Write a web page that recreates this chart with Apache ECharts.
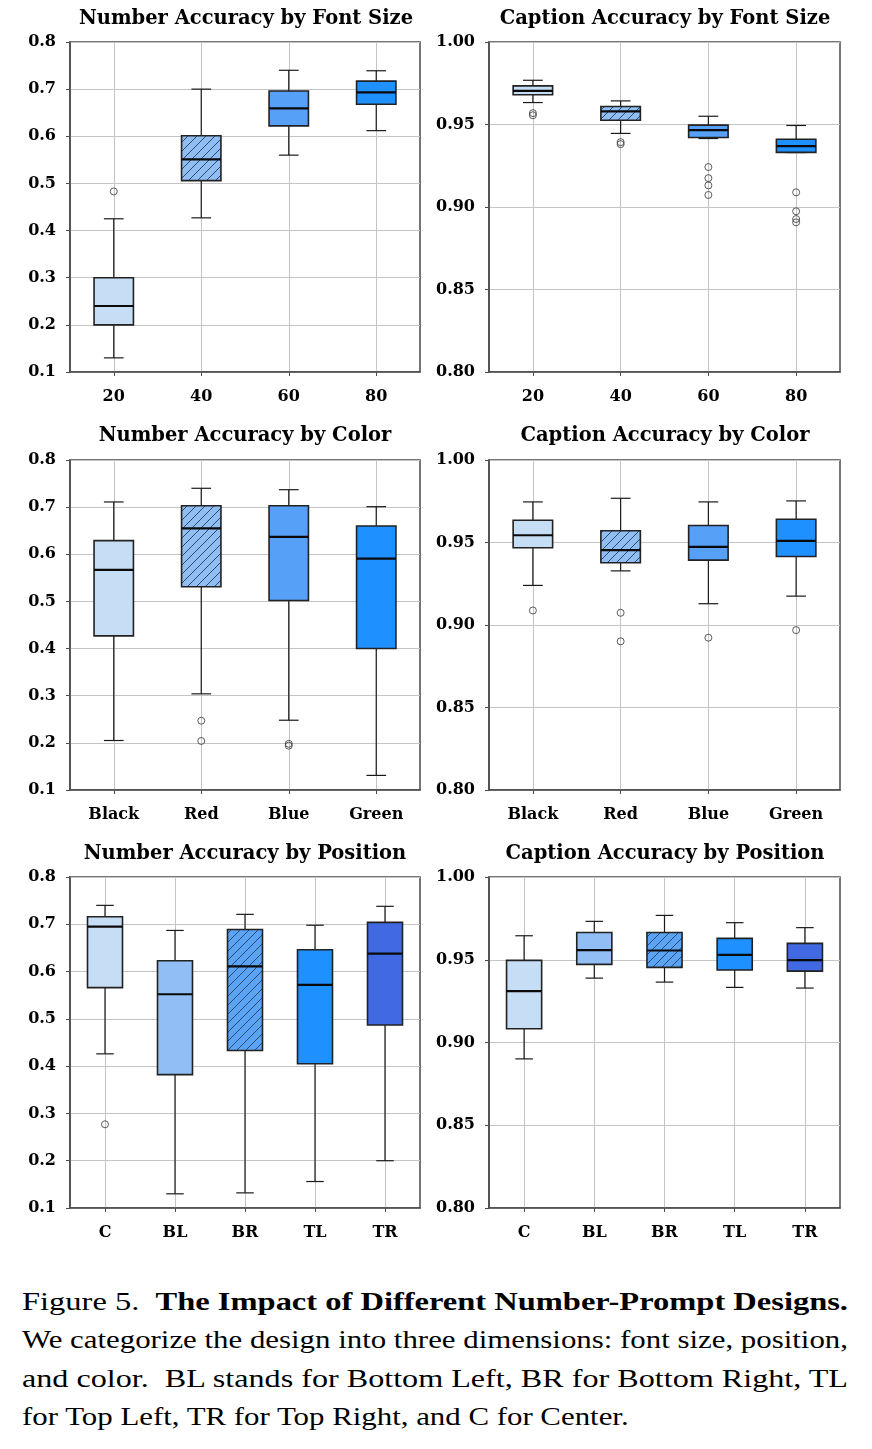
<!DOCTYPE html>
<html>
<head>
<meta charset="utf-8">
<script src="https://cdn.jsdelivr.net/npm/echarts@6/dist/echarts.min.js"></script>
<style>
  html, body { margin: 0; padding: 0; background: #fff; }
  #chart { position: absolute; left: 0; top: 0; width: 872px; height: 1270px; }
  .cap { position: absolute; left: 22px; font-family: 'Liberation Serif', 'Times New Roman', serif; font-size: 25px; line-height: 25px; white-space: nowrap; color: #000; transform-origin: 0 0; }
</style>
</head>
<body>
<div id="chart"></div>
<div class="cap" id="l1" style="top:1289px">Figure 5.&nbsp; <b>The Impact of Different Number-Prompt Designs.</b></div>
<div class="cap" id="l2" style="top:1327px">We categorize the design into three dimensions: font size, position,</div>
<div class="cap" id="l3" style="top:1366px">and color.&nbsp; BL stands for Bottom Left, BR for Bottom Right, TL</div>
<div class="cap" id="l4" style="top:1404px">for Top Left, TR for Top Right, and C for Center.</div>
<script>
// ---------------- DATA ----------------
const fontCats = ['20', '40', '60', '80'];
const colorCats = ['Black', 'Red', 'Blue', 'Green'];
const posCats = ['C', 'BL', 'BR', 'TL', 'TR'];

const numberTicks = [0.1, 0.2, 0.3, 0.4, 0.5, 0.6, 0.7, 0.8];
const captionTicks = [0.80, 0.85, 0.90, 0.95, 1.00];

// [low whisker, Q1, median, Q3, high whisker]
const numFontBox = [
  [0.130, 0.200, 0.240, 0.300, 0.425],
  [0.427, 0.506, 0.551, 0.601, 0.700],
  [0.560, 0.622, 0.659, 0.696, 0.740],
  [0.612, 0.668, 0.693, 0.717, 0.739]
];
const numFontOut = [[0, 0.483]];

const capFontBox = [
  [0.9633, 0.9680, 0.9704, 0.9734, 0.9768],
  [0.9446, 0.9526, 0.9579, 0.9609, 0.9643],
  [0.9415, 0.9421, 0.9466, 0.9496, 0.9550],
  [0.9330, 0.9331, 0.9369, 0.9411, 0.9494]
];
const capFontOut = [[0, 0.9569], [0, 0.9556], [1, 0.9393], [1, 0.9381],
  [2, 0.9242], [2, 0.9175], [2, 0.9131], [2, 0.9073],
  [3, 0.9089], [3, 0.8974], [3, 0.8927], [3, 0.8907]];

const numColorBox = [
  [0.205, 0.427, 0.567, 0.629, 0.711],
  [0.304, 0.531, 0.655, 0.703, 0.740],
  [0.248, 0.502, 0.637, 0.703, 0.737],
  [0.131, 0.400, 0.591, 0.660, 0.701]
];
const numColorOut = [[1, 0.247], [1, 0.204], [2, 0.198], [2, 0.194]];

const capColorBox = [
  [0.9240, 0.9468, 0.9544, 0.9635, 0.9746],
  [0.9328, 0.9377, 0.9454, 0.9571, 0.9768],
  [0.9129, 0.9393, 0.9474, 0.9603, 0.9746],
  [0.9175, 0.9415, 0.9510, 0.9641, 0.9752]
];
const capColorOut = [[0, 0.9088], [1, 0.9074], [1, 0.8901], [2, 0.8923], [3, 0.8969]];

const numPosBox = [
  [0.426, 0.566, 0.695, 0.716, 0.740],
  [0.130, 0.382, 0.552, 0.623, 0.687],
  [0.132, 0.433, 0.611, 0.689, 0.721],
  [0.156, 0.405, 0.572, 0.646, 0.698],
  [0.200, 0.487, 0.638, 0.704, 0.738]
];
const numPosOut = [[0, 0.277]];

const capPosBox = [
  [0.8901, 0.9083, 0.9311, 0.9496, 0.9645],
  [0.9389, 0.9472, 0.9558, 0.9665, 0.9732],
  [0.9365, 0.9454, 0.9556, 0.9665, 0.9768],
  [0.9333, 0.9438, 0.9530, 0.9629, 0.9724],
  [0.9329, 0.9431, 0.9498, 0.9599, 0.9694]
];
const capPosOut = [];

const titles = [
  'Number Accuracy by Font Size', 'Caption Accuracy by Font Size',
  'Number Accuracy by Color', 'Caption Accuracy by Color',
  'Number Accuracy by Position', 'Caption Accuracy by Position'
];

// ---------------- STYLE ----------------
function hatch(base) {
  const s = 9;
  const c = document.createElement('canvas');
  c.width = s; c.height = s;
  const ctx = c.getContext('2d');
  ctx.fillStyle = base; ctx.fillRect(0, 0, s, s);
  ctx.strokeStyle = '#2c4a70'; ctx.lineWidth = 1;
  ctx.beginPath();
  ctx.moveTo(0, s); ctx.lineTo(s, 0);
  ctx.moveTo(-1, 1); ctx.lineTo(1, -1);
  ctx.moveTo(s - 1, s + 1); ctx.lineTo(s + 1, s - 1);
  ctx.stroke();
  return { image: c, repeat: 'repeat' };
}
const fourColors = ['#c6ddf6', hatch('#90bdf2'), '#56a0f8', '#1e90ff'];
const fiveColors = ['#c6ddf6', '#90bef5', hatch('#5aa3f5'), '#1e90ff', '#4169e1'];

const FONT = 'DejaVu Serif';
const layout = [
  { left: 70, top: 42, width: 350, height: 330, tx: 246, ty: 9 },
  { left: 489, top: 42, width: 351, height: 330, tx: 665, ty: 9 },
  { left: 70, top: 460, width: 350, height: 330, tx: 245, ty: 426 },
  { left: 489, top: 460, width: 351, height: 330, tx: 665, ty: 426 },
  { left: 70, top: 877, width: 350, height: 331, tx: 245, ty: 844 },
  { left: 489, top: 877, width: 351, height: 331, tx: 665, ty: 844 }
];
const panels = [
  { cats: fontCats, box: numFontBox, out: numFontOut, ticks: numberTicks, colors: fourColors, dec: 1 },
  { cats: fontCats, box: capFontBox, out: capFontOut, ticks: captionTicks, colors: fourColors, dec: 2 },
  { cats: colorCats, box: numColorBox, out: numColorOut, ticks: numberTicks, colors: fourColors, dec: 1 },
  { cats: colorCats, box: capColorBox, out: capColorOut, ticks: captionTicks, colors: fourColors, dec: 2 },
  { cats: posCats, box: numPosBox, out: numPosOut, ticks: numberTicks, colors: fiveColors, dec: 1 },
  { cats: posCats, box: capPosBox, out: capPosOut, ticks: captionTicks, colors: fiveColors, dec: 2 }
];

const option = { animation: false, title: [], grid: [], xAxis: [], yAxis: [], series: [] };

panels.forEach((p, i) => {
  const L = layout[i];
  option.title.push({
    text: titles[i], left: L.tx, top: L.ty, textAlign: 'center', padding: 0,
    textStyle: { fontFamily: FONT, fontWeight: 'bold', fontSize: 19.5, color: '#000' }
  });
  option.grid.push({
    left: L.left, top: L.top, width: L.width, height: L.height,
    show: true, borderColor: '#4a4a4a', borderWidth: 1.5, backgroundColor: 'transparent'
  });
  option.xAxis.push({
    type: 'category', gridIndex: i, data: p.cats, boundaryGap: true,
    axisLine: { show: true, lineStyle: { color: '#4a4a4a', width: 1.5 } },
    axisTick: { show: true, alignWithLabel: true, length: 4, lineStyle: { color: '#4a4a4a' } },
    splitLine: { show: true, alignWithLabel: true, lineStyle: { color: '#c4c4c4', width: 1 } },
    axisLabel: { margin: 17, fontFamily: FONT, fontWeight: 'bold', fontSize: 16, color: '#000' }
  });
  const step = p.ticks[1] - p.ticks[0];
  option.yAxis.push({
    type: 'value', gridIndex: i,
    min: p.ticks[0], max: p.ticks[p.ticks.length - 1], interval: step,
    axisLine: { show: true, lineStyle: { color: '#4a4a4a', width: 1.5 } },
    axisTick: { show: true, length: 4, lineStyle: { color: '#4a4a4a' } },
    splitLine: { show: true, lineStyle: { color: '#c4c4c4', width: 1 } },
    axisLabel: {
      margin: 14, fontFamily: FONT, fontWeight: 'bold', fontSize: 16, color: '#000',
      formatter: v => v.toFixed(p.dec)
    }
  });
  const colors = p.colors;
  option.series.push({
    type: 'custom', xAxisIndex: i, yAxisIndex: i, z: 3,
    encode: { x: 0, y: [1, 2, 3, 4, 5] },
    data: p.box.map((b, k) => [k].concat(b)),
    renderItem: function (params, api) {
      const x = api.value(0);
      const px = api.coord([x, api.value(3)]);
      const cx = px[0];
      const yLo = api.coord([x, api.value(1)])[1];
      const yQ1 = api.coord([x, api.value(2)])[1];
      const yMed = px[1];
      const yQ3 = api.coord([x, api.value(4)])[1];
      const yHi = api.coord([x, api.value(5)])[1];
      const bw = api.size([1, 0])[0] * (p.cats.length === 5 ? 0.5 : 0.45);
      const cap = bw / 4;
      const wStyle = { stroke: '#1a1a1a', lineWidth: 1.2 };
      return {
        type: 'group',
        children: [
          { type: 'line', shape: { x1: cx, y1: yLo, x2: cx, y2: yQ1 }, style: wStyle },
          { type: 'line', shape: { x1: cx, y1: yQ3, x2: cx, y2: yHi }, style: wStyle },
          { type: 'line', shape: { x1: cx - cap, y1: yLo, x2: cx + cap, y2: yLo }, style: wStyle },
          { type: 'line', shape: { x1: cx - cap, y1: yHi, x2: cx + cap, y2: yHi }, style: wStyle },
          { type: 'rect', shape: { x: cx - bw / 2, y: yQ3, width: bw, height: yQ1 - yQ3 },
            style: { fill: colors[params.dataIndex], stroke: '#222', lineWidth: 1.6 } },
          { type: 'line', shape: { x1: cx - bw / 2, y1: yMed, x2: cx + bw / 2, y2: yMed },
            style: { stroke: '#0a0a0a', lineWidth: 2.2 } }
        ]
      };
    }
  });
  option.series.push({
    type: 'scatter', xAxisIndex: i, yAxisIndex: i, z: 4,
    symbol: 'circle', symbolSize: 7,
    itemStyle: { color: 'rgba(255,255,255,0)', borderColor: '#333', borderWidth: 1 },
    data: p.out
  });
});

const chart = echarts.init(document.getElementById('chart'), null, { renderer: 'canvas' });
chart.setOption(option);

// caption: fit lines to justified width
(function () {
  const target = 826;
  ['l1', 'l2', 'l3'].forEach(id => {
    const el = document.getElementById(id);
    const w = el.getBoundingClientRect().width;
    el.style.transform = 'scaleX(' + (target / w) + ')';
  });
  const l2 = document.getElementById('l2');
  const s2 = parseFloat(l2.style.transform.replace('scaleX(', ''));
  document.getElementById('l4').style.transform = 'scaleX(' + s2 + ')';
})();
</script>
</body>
</html>
